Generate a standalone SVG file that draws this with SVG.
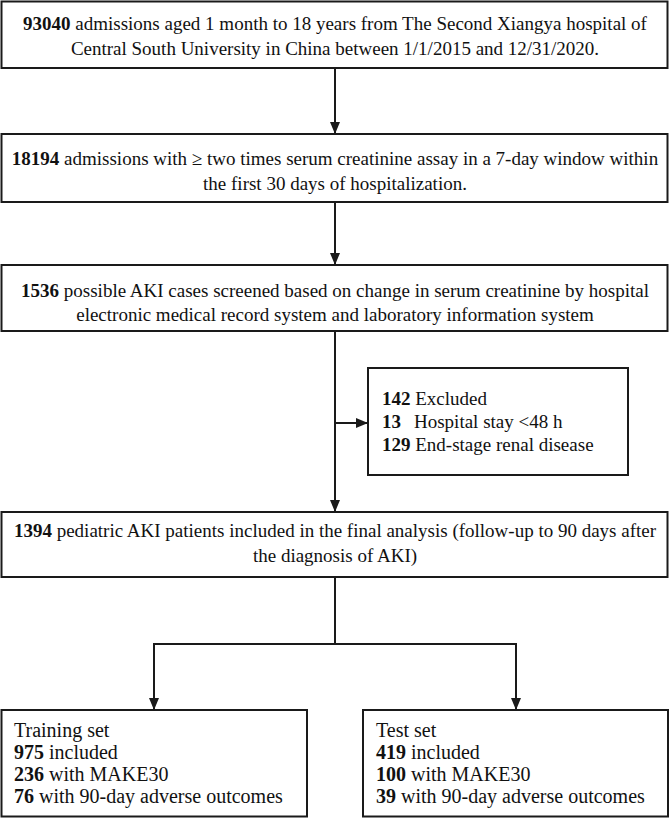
<svg xmlns="http://www.w3.org/2000/svg" width="670" height="818" viewBox="0 0 670 818">
<defs>
<style>
.box{fill:#fff;stroke:#1a1a1a;stroke-width:2}
.t{font-family:"Liberation Serif","Times New Roman",serif;font-size:19px;fill:#111}
.c{text-anchor:middle}
.s{font-size:20px}
.b{font-weight:bold}
.ln{fill:none;stroke:#1a1a1a;stroke-width:2}
</style>
<marker id="ah" viewBox="0 0 12 10" refX="12" refY="5" markerWidth="6" markerHeight="5" markerUnits="strokeWidth" orient="auto">
<path d="M0,0 L12,5 L0,10 z" fill="#1a1a1a"/>
</marker>
</defs>
<rect width="670" height="818" fill="#fff"/>
<g id="connectors">
<line class="ln" x1="335" y1="68" x2="335" y2="134" marker-end="url(#ah)"/>
<line class="ln" x1="335" y1="202" x2="335" y2="265" marker-end="url(#ah)"/>
<line class="ln" x1="335" y1="331" x2="335" y2="512" marker-end="url(#ah)"/>
<line class="ln" x1="335" y1="423" x2="368" y2="423" marker-end="url(#ah)"/>
<polyline class="ln" points="335,577 335,644"/>
<line class="ln" x1="153" y1="644" x2="517" y2="644"/>
<line class="ln" x1="154" y1="644" x2="154" y2="710" marker-end="url(#ah)"/>
<line class="ln" x1="516" y1="644" x2="516" y2="710" marker-end="url(#ah)"/>
</g>
<g id="n1">
<rect class="box" x="1.5" y="1.5" width="666" height="66.5"/>
<text class="t c" x="335" y="30"><tspan class="b">93040</tspan> admissions aged 1 month to 18 years from The Second Xiangya hospital of</text>
<text class="t c" x="335" y="55">Central South University in China between 1/1/2015 and 12/31/2020.</text>
</g>
<g id="n2">
<rect class="box" x="1.5" y="134" width="666" height="68"/>
<text class="t c" x="335" y="165"><tspan class="b">18194</tspan> admissions with ≥ two times serum creatinine assay in a 7-day window within</text>
<text class="t c" x="335" y="190">the first 30 days of hospitalization.</text>
</g>
<g id="n3">
<rect class="box" x="1.5" y="265" width="666" height="66"/>
<text class="t c" x="335" y="297"><tspan class="b">1536</tspan> possible AKI cases screened based on change in serum creatinine by hospital</text>
<text class="t c" x="335" y="321">electronic medical record system and laboratory information system</text>
</g>
<g id="excluded">
<rect class="box" x="368" y="368" width="260" height="107"/>
<text class="t" x="382" y="405"><tspan class="b">142</tspan> Excluded</text>
<text class="t" x="382" y="428"><tspan class="b">13</tspan><tspan x="414">Hospital stay &lt;48 h</tspan></text>
<text class="t" x="382" y="451"><tspan class="b">129</tspan> End-stage renal disease</text>
</g>
<g id="n4">
<rect class="box" x="1.5" y="512" width="666" height="65"/>
<text class="t c" x="335" y="537"><tspan class="b">1394</tspan> pediatric AKI patients included in the final analysis (follow-up to 90 days after</text>
<text class="t c" x="335" y="562">the diagnosis of AKI)</text>
</g>
<g id="training">
<rect class="box" x="1.5" y="710" width="305.5" height="106.5"/>
<text class="t s" x="14" y="737">Training set</text>
<text class="t s" x="14" y="759"><tspan class="b">975</tspan> included</text>
<text class="t s" x="14" y="781"><tspan class="b">236</tspan> with MAKE30</text>
<text class="t s" x="14" y="803"><tspan class="b">76</tspan> with 90-day adverse outcomes</text>
</g>
<g id="test">
<rect class="box" x="363" y="710" width="305" height="106.5"/>
<text class="t s" x="376" y="737">Test set</text>
<text class="t s" x="376" y="759"><tspan class="b">419</tspan> included</text>
<text class="t s" x="376" y="781"><tspan class="b">100</tspan> with MAKE30</text>
<text class="t s" x="376" y="803"><tspan class="b">39</tspan> with 90-day adverse outcomes</text>
</g>
</svg>
